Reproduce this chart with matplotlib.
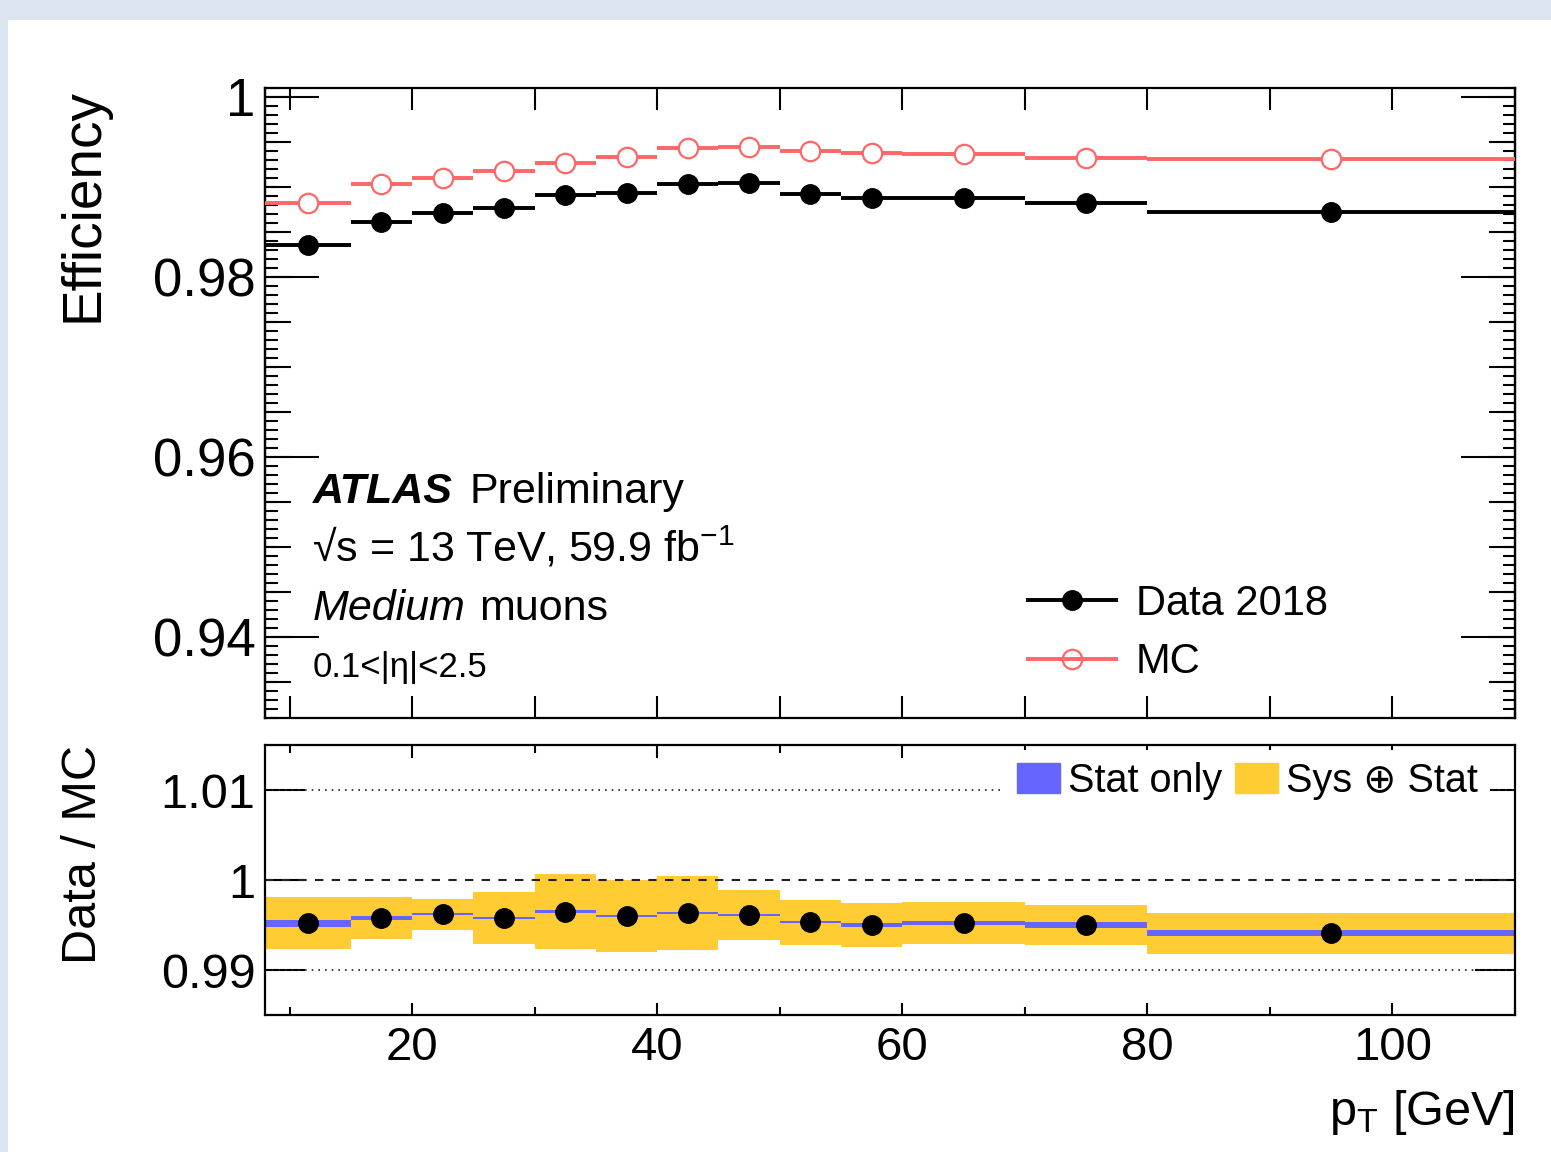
# Muon reconstruction efficiency vs pT, data 2018 vs MC with data/MC ratio

import numpy as np
import matplotlib
matplotlib.use('Agg')
from matplotlib import pyplot as plt
from matplotlib.ticker import MultipleLocator, FuncFormatter, NullFormatter, NullLocator
from matplotlib.lines import Line2D
from matplotlib.patches import Patch, Rectangle

plt.rcParams['font.family'] = ['Liberation Sans', 'DejaVu Sans']
plt.rcParams['mathtext.fontset'] = 'custom'
plt.rcParams['mathtext.rm'] = 'Liberation Sans'
plt.rcParams['mathtext.it'] = 'Liberation Sans:italic'
plt.rcParams['mathtext.bf'] = 'Liberation Sans:bold'

# pT bins [GeV]
bin_lo = [8, 15, 20, 25, 30, 35, 40, 45, 50, 55, 60, 70, 80]
bin_hi = [15, 20, 25, 30, 35, 40, 45, 50, 55, 60, 70, 80, 110]

# efficiencies
eff_data = [0.98358, 0.98616, 0.98709, 0.98767, 0.98911, 0.98930, 0.99037,
            0.99041, 0.98922, 0.98878, 0.98878, 0.98823, 0.98723]
eff_mc = [0.98826, 0.99030, 0.99096, 0.99180, 0.99266, 0.99332, 0.99429,
          0.99440, 0.99399, 0.99377, 0.99366, 0.99321, 0.99310]

# data / MC scale factors and their uncertainties
ratio = [0.9952, 0.9958, 0.9962, 0.9958, 0.9965, 0.9960, 0.9963,
         0.9961, 0.9953, 0.9950, 0.9952, 0.9950, 0.9941]
ratio_stat = [0.00040, 0.00024, 0.00011, 0.00011, 0.00013, 0.00013, 0.00011,
              0.00013, 0.00013, 0.00017, 0.00019, 0.00030, 0.00032]
ratio_tot = [0.00286, 0.00234, 0.00172, 0.00291, 0.00422, 0.00400, 0.00410,
             0.00280, 0.00252, 0.00240, 0.00233, 0.00224, 0.00228]

red = '#ff6666'
blue = '#6666ff'
yellow = '#ffcc33'

lo = np.array(bin_lo, dtype=float)
hi = np.array(bin_hi, dtype=float)
centre = (lo + hi) / 2
half = (hi - lo) / 2
r = np.array(ratio)
rs = np.array(ratio_stat)
rt = np.array(ratio_tot)

W, H = 1551, 1152
fig = plt.figure(figsize=(W / 100, H / 100), dpi=100, facecolor='#dce5f0')
fig.add_artist(Rectangle((8 / W, 0), 1 - 8 / W, 1 - 20 / H, transform=fig.transFigure,
                         facecolor='white', edgecolor='none', zorder=-1))

ax1 = fig.add_axes([265 / W, 1 - 718 / H, 1250 / W, 630 / H])
ax2 = fig.add_axes([265 / W, 1 - 1015 / H, 1250 / W, 270 / H])

for ax in (ax1, ax2):
    for s in ax.spines.values():
        s.set_linewidth(1.6)

# ---- top panel
ax1.errorbar(centre, eff_mc, xerr=half, fmt='o', color=red, mfc='white', mec=red,
             mew=1.6, ms=14, elinewidth=2.8, capsize=0, zorder=3)
ax1.errorbar(centre, eff_data, xerr=half, fmt='o', color='black', ms=14,
             elinewidth=2.8, capsize=0, zorder=3)

ax1.set_xlim(8, 110)
ax1.set_ylim(0.931, 1.001)
ax1.xaxis.set_major_locator(MultipleLocator(10))
ax1.xaxis.set_minor_locator(NullLocator())
ax1.yaxis.set_major_locator(MultipleLocator(0.02))
ax1.yaxis.set_minor_locator(MultipleLocator(0.001))
ax1.yaxis.set_major_formatter(FuncFormatter(lambda v, p: f'{v:g}'))
ax1.tick_params(axis='x', which='major', direction='in', length=16, width=1.5,
                top=True, bottom=True, labelbottom=False)
ax1.tick_params(axis='y', which='major', direction='in', length=39, width=1.5,
                left=True, right=True, labelsize=38, pad=7)
ax1.tick_params(axis='y', which='minor', direction='in', length=9, width=1.5,
                left=True, right=True)
# medium ticks every 0.005
for side in ('left', 'right'):
    sec = ax1.secondary_yaxis(side)
    sec.yaxis.set_major_locator(MultipleLocator(0.005))
    sec.yaxis.set_minor_locator(NullLocator())
    sec.yaxis.set_major_formatter(NullFormatter())
    sec.tick_params(direction='in', length=19, width=1.5)
    sec.spines[side].set_linewidth(1.6)

t = ax1.text(0.038, 0.341, 'ATLAS', transform=ax1.transAxes, fontsize=31,
             fontweight='bold', fontstyle='italic', va='baseline')
ax1.annotate('Preliminary', xy=(1, 0), xycoords=t, xytext=(12, 0),
             textcoords='offset points', fontsize=31, va='bottom')
ax1.text(0.038, 0.249, '\u221As = 13 TeV, 59.9 fb$^{-1}$', transform=ax1.transAxes,
         fontsize=31, va='baseline')
t = ax1.text(0.038, 0.156, 'Medium', transform=ax1.transAxes, fontsize=31,
             fontstyle='italic', va='baseline')
ax1.annotate('muons', xy=(1, 0), xycoords=t, xytext=(10, 0),
             textcoords='offset points', fontsize=31, va='bottom')
ax1.text(0.038, 0.065, '0.1<|\u03b7|<2.5', transform=ax1.transAxes,
         fontsize=25, va='baseline')

handles = [Line2D([], [], color='black', marker='o', ms=14, lw=2.8),
           Line2D([], [], color=red, marker='o', ms=14, mfc='none', mec=red, mew=1.6, lw=2.8)]
ax1.legend(handles, ['Data 2018', 'MC'], loc='center left', bbox_to_anchor=(0.6104, 0.135),
           frameon=False, borderpad=0, borderaxespad=0, handlelength=2.1,
           handletextpad=0.48, labelspacing=0.45, fontsize=30)

# ---- ratio panel
ax2.bar(lo, 2 * rt, bottom=r - rt, width=hi - lo, align='edge', color=yellow, lw=0, zorder=1)
ax2.bar(lo, 2 * rs, bottom=r - rs, width=hi - lo, align='edge', color=blue, lw=0, zorder=1)
ax2.axhline(1.0, color='#222222', lw=1.5, ls=(0, (4, 4)), zorder=2)
ax2.axhline(1.01, color='#222222', lw=1.2, ls=(0, (1, 3)), zorder=2)
ax2.axhline(0.99, color='#222222', lw=1.2, ls=(0, (1, 3)), zorder=2)
ax2.plot(centre, r, 'o', color='black', ms=14, zorder=3)

ax2.set_xlim(8, 110)
ax2.set_ylim(0.985, 1.015)
ax2.xaxis.set_major_locator(MultipleLocator(20))
ax2.xaxis.set_minor_locator(MultipleLocator(10))
ax2.yaxis.set_major_locator(MultipleLocator(0.01))
ax2.yaxis.set_minor_locator(NullLocator())
ax2.yaxis.set_major_formatter(FuncFormatter(lambda v, p: f'{v:g}'))
ax2.tick_params(axis='x', which='major', direction='in', length=9, width=1.5,
                top=True, bottom=True, labelsize=34, pad=8)
ax2.tick_params(axis='x', which='minor', direction='in', length=6, width=1.5,
                top=True, bottom=True)
ax2.tick_params(axis='y', which='major', direction='in', length=29, width=1.5,
                left=True, right=True, labelsize=35, pad=7)

ax2.legend([Patch(color=blue), Patch(color=yellow)], ['Stat only', 'Sys \u2295 Stat'],
           ncol=2, loc='center right', bbox_to_anchor=(0.98, 0.867), frameon=True,
           facecolor='white', edgecolor='none', framealpha=1, fancybox=False,
           borderpad=0.3, borderaxespad=0, handlelength=1.09, handleheight=0.8,
           handletextpad=0.2, columnspacing=0.33, fontsize=28.5)

# axis titles
fig.text(84 / W, 1 - 88 / H, 'Efficiency', rotation=90, ha='center', va='top', fontsize=39.5)
fig.text(84 / W, 1 - 745 / H, 'Data / MC', rotation=90, ha='center', va='top', fontsize=35)
fig.text(1515 / W, 27 / H, 'p$_{\\mathrm{T}}$ [GeV]', ha='right', va='baseline', fontsize=35)

fig.savefig('out.png', dpi=100)
